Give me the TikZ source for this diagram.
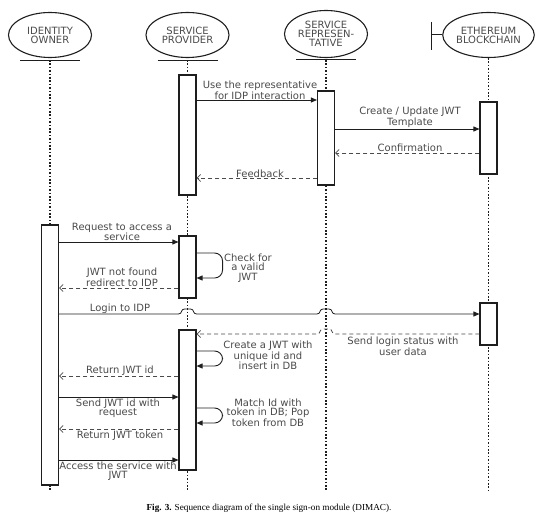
\documentclass[tikz,border=0pt]{standalone}
\usepackage{fontspec}
\setmainfont{DejaVu Sans}
\newfontfamily\capfont{Liberation Serif}
\usetikzlibrary{arrows.meta,shapes.geometric,calc}
\definecolor{txt}{HTML}{4A4A4A}
\definecolor{ln}{HTML}{1E1E1E}
\begin{document}
\begin{tikzpicture}[x=1pt,y=-1pt,
  actor/.style={draw=ln, ellipse, line width=1.1pt, minimum width=83pt, minimum height=45pt, inner sep=0pt, align=center, text=txt, font=\fontsize{10}{9}\selectfont},
  base/.style={draw=ln, line width=1pt},
  life/.style={draw=ln, line width=1.2pt, dash pattern=on 1.6pt off 1.8pt},
  actbox/.style={draw=ln, line width=1.1pt, fill=white, minimum width=17pt, inner sep=0pt},
  msg/.style={draw=ln, line width=0.8pt, -{Triangle[length=6pt,width=5pt]}},
  ret/.style={draw=ln!80, line width=0.8pt, dash pattern=on 4pt off 3pt, -{Straight Barb[length=3.5pt,width=7pt]}},
  selfmsg/.style={draw=ln, line width=0.9pt, rounded corners=8pt, -{Triangle[length=6pt,width=5pt]}},
  lbl/.style={text=txt, align=center, inner sep=0pt, font=\fontsize{10}{9.2}\selectfont},
  hopr/.style={insert path={-- ($(#1)+(-9,0)$) .. controls ($(#1)+(-5,0)$) and ($(#1)+(-7,-5)$) .. ($(#1)+(-3,-5)$) -- ($(#1)+(3,-5)$) .. controls ($(#1)+(7,-5)$) and ($(#1)+(5,0)$) .. ($(#1)+(9,0)$)}},
  hopl/.style={insert path={-- ($(#1)+(9,0)$) .. controls ($(#1)+(5,0)$) and ($(#1)+(7,-5)$) .. ($(#1)+(3,-5)$) -- ($(#1)+(-3,-5)$) .. controls ($(#1)+(-7,-5)$) and ($(#1)+(-5,0)$) .. ($(#1)+(-9,0)$)}}
]
\useasboundingbox (0,0) rectangle (540,524);

% actors
\node[actor] (io) at (50,35) {IDENTITY\\OWNER};
\node[actor] (sp) at (187.5,35) {SERVICE\\PROVIDER};
\node[actor, minimum height=47pt] (sr) at (326,34) {SERVICE\\REPRESEN-\\TATIVE};
\node[actor, minimum width=81pt] (eth) at (488.5,35) {ETHEREUM\\BLOCKCHAIN};

% baselines
\draw[base] ($(io.south)+(-30,2)$) -- ($(io.south)+(30,2)$);
\draw[base] ($(sp.south)+(-30,2)$) -- ($(sp.south)+(30,2)$);
\draw[base] ($(sr.south)+(-30,1)$) -- ($(sr.south)+(30,1)$);
% boundary symbol
\coordinate (bt) at (431,22);
\coordinate (bb) at (431,50);
\draw[base] (bt) -- (bb);
\draw[base] (bt |- eth.west) -- (eth.west);

% coordinates of lifeline ends
\coordinate (ioT) at (50,60);
\coordinate (spT) at (187.5,60);
\coordinate (srT) at (326,60);
\coordinate (ethT) at (488.5,58);
\coordinate (ioB) at (50,490);
\coordinate (spB) at (187.5,490);
\coordinate (srB) at (326,490);
\coordinate (ethB) at (488.5,490);

% lifelines
\draw[life] (ioT) -- (ioB);
\draw[life] (spT) -- (spB);
\draw[life] (srT) -- (srB);
\draw[life] (ethT) -- (ethB);

% activation boxes
\node[actbox, minimum height=120pt] (sp1) at (187.5,135) {};
\node[actbox, minimum height=94pt] (sr1) at (326,138) {};
\node[actbox, minimum height=72pt] (eth1) at (488.5,138) {};
\node[actbox, minimum height=260pt] (iob) at (50,355) {};
\node[actbox, minimum height=62pt] (sp2) at (187.5,267) {};
\node[actbox, minimum height=42pt] (eth2) at (488.5,324) {};
\node[actbox, minimum height=140pt] (sp3) at (187.5,400) {};

% messages
\draw[msg] (sp1.east |- 0,100) -- (sr1.west |- 0,100);
\node[lbl] (l1) at (260,90.5) {Use the representative\\for IDP interaction};

\draw[msg] (sr1.east |- 0,129) -- (eth1.west |- 0,129);
\node[lbl] (l2) at (410,117) {Create / Update JWT\\Template};

\draw[ret] (eth1.west |- 0,153) -- (sr1.east |- 0,153);
\node[lbl] (l3) at (410,147.5) {Confirmation};

\draw[ret] (sr1.west |- 0,178) -- (sp1.east |- 0,178);
\node[lbl] (l4) at (260,173.5) {Feedback};

\draw[msg] (iob.east |- 0,242) -- (sp2.west |- 0,242);
\node[lbl] (l5) at (122,232) {Request to access a\\service};

\draw[selfmsg] (sp2.east |- 0,253) -- ++(26,0) -- ++(0,25) -- (sp2.east |- 0,278);
\node[lbl] (l6) at (248,268) {Check for\\a valid\\JWT};

\draw[ret] (sp2.west |- 0,288) -- (iob.east |- 0,288);
\node[lbl] (l7) at (122,277) {JWT not found\\redirect to IDP};

\coordinate (h1) at (187.5,314);
\coordinate (h2) at (326,314);
\draw[msg] (iob.east |- 0,314) [hopr=h1] [hopr=h2] -- (eth2.west |- 0,314);
\node[lbl] (l8) at (120,308.5) {Login to IDP};

\coordinate (h3) at (326,334);
\draw[ret] (eth2.west |- 0,334) [hopl=h3] -- (sp3.east |- 0,334);
\node[lbl] (l9) at (403,346.5) {Send login status with\\user data};

\draw[selfmsg] (sp3.east |- 0,351) -- ++(26,0) -- ++(0,15) -- (sp3.east |- 0,366);
\node[lbl] (l10) at (268,355.5) {Create a JWT with\\unique id and\\insert in DB};

\draw[ret] (sp3.west |- 0,376) -- (iob.east |- 0,376);
\node[lbl] (l11) at (120,370.5) {Return JWT id};

\draw[msg] (iob.east |- 0,397) -- (sp3.west |- 0,397);
\node[lbl] (l12) at (118,408.5) {Send JWT id with\\request};

\draw[selfmsg] (sp3.east |- 0,408) -- ++(26,0) -- ++(0,15) -- (sp3.east |- 0,423);
\node[lbl] (l13) at (268,413) {Match Id with\\token in DB; Pop\\token from DB};

\draw[ret] (sp3.west |- 0,429) -- (iob.east |- 0,429);
\node[lbl] (l14) at (120,435.5) {Return JWT token};

\draw[msg] (iob.east |- 0,460) -- (sp3.west |- 0,460);
\node[lbl] (l15) at (118,471) {Access the service with\\JWT};

% caption
\node[inner sep=0pt, font=\capfont\fontsize{9.2}{10}\selectfont] (cap) at (269,508) {\textbf{Fig. 3.} Sequence diagram of the single sign-on module (DIMAC).};
\end{tikzpicture}
\end{document}
